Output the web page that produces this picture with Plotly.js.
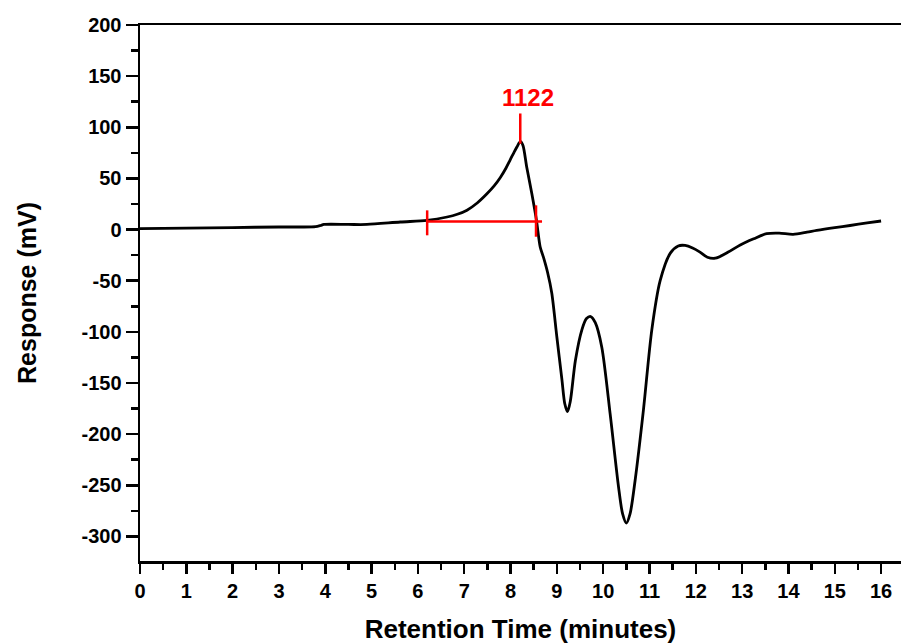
<!DOCTYPE html>
<html>
<head>
<meta charset="utf-8">
<script src="https://cdn.plot.ly/plotly-3.0.1.min.js"></script>
<style>html,body{margin:0;padding:0;background:#fff;}#chart{width:901px;height:644px;}</style>
</head>
<body>
<div id="chart"></div>
<script>
// Chromatogram trace (retention time in minutes, response in mV)
const timeMin = [0, 1, 2, 3, 3.46, 3.79, 3.9, 3.97, 4.5, 4.9, 5.62, 6.2, 6.63, 6.85, 7.06, 7.28, 7.49, 7.65, 7.78, 7.9, 7.99, 8.08, 8.14, 8.19, 8.22, 8.27, 8.35, 8.46, 8.56, 8.64, 8.71, 8.8, 8.89, 9.0, 9.11, 9.17, 9.23, 9.29, 9.40, 9.54, 9.64, 9.73, 9.83, 9.97, 10.15, 10.33, 10.42, 10.50, 10.58, 10.69, 10.87, 11.05, 11.23, 11.45, 11.62, 11.77, 11.93, 12.09, 12.25, 12.42, 12.7, 12.96, 13.25, 13.53, 13.8, 14.1, 14.4, 14.61, 15.0, 15.33, 15.7, 16.0];
const responseMv = [1, 1.5, 2, 2.5, 2.5, 2.8, 4, 5, 5, 5, 7.4, 9, 12.3, 15, 19, 26, 35, 43, 51, 60, 68, 76, 81, 85, 86, 82, 61, 35, 9, -17, -27, -42, -62, -105, -147, -170, -178, -168, -128, -98, -87, -85, -91, -115, -180, -251, -278, -287, -278, -245, -176, -98, -50, -23, -16, -15.5, -18, -22, -27, -28, -22, -15, -9, -4, -3.5, -4.6, -2.5, -0.7, 2, 4, 6.5, 8.4];

// Peak integration marks
const baseX = [6.2, 8.68];
const baseY = [8, 8];
const startTickX = [6.2, 6.2];
const startTickY = [-5.6, 18.8];
const endTickX = [8.55, 8.55];
const endTickY = [-7, 23.7];
const apexTickX = [8.21, 8.21];
const apexTickY = [84, 113.5];
const peakLabel = "1122";
const peakLabelX = 8.38;
const peakLabelY = 129;

const xTicks = [0,1,2,3,4,5,6,7,8,9,10,11,12,13,14,15,16];
const yTicks = [200,150,100,50,0,-50,-100,-150,-200,-250,-300];

const red = '#ff0000';
const traces = [
  {x: timeMin, y: responseMv, mode: 'lines', line: {color: '#000', width: 2.8, shape: 'spline', smoothing: 0.8}, hoverinfo: 'skip'},
  {x: baseX, y: baseY, mode: 'lines', line: {color: red, width: 2.5}, hoverinfo: 'skip'},
  {x: startTickX, y: startTickY, mode: 'lines', line: {color: red, width: 2.5}, hoverinfo: 'skip'},
  {x: endTickX, y: endTickY, mode: 'lines', line: {color: red, width: 2.5}, hoverinfo: 'skip'},
  {x: apexTickX, y: apexTickY, mode: 'lines', line: {color: red, width: 2.5}, hoverinfo: 'skip'}
];

const tickFont = {family: 'Liberation Sans, Arial, sans-serif', size: 20, color: '#000', weight: 'bold'};
const layout = {
  width: 901, height: 644,
  margin: {l: 140, r: 0, t: 25, b: 83},
  paper_bgcolor: '#fff', plot_bgcolor: '#fff',
  showlegend: false,
  font: {family: 'Liberation Sans, Arial, sans-serif', color: '#000'},
  xaxis: {
    range: [0, 16.43], tickvals: xTicks, ticktext: xTicks.map(String),
    ticks: 'outside', ticklen: 10, tickwidth: 2.5, tickcolor: '#000',
    minor: {dtick: 0.5, tick0: 0, ticks: 'outside', ticklen: 6, tickwidth: 2.5, tickcolor: '#000'},
    showline: true, linecolor: '#000', linewidth: 2.5, mirror: true,
    showgrid: false, zeroline: false,
    tickfont: tickFont,
    title: {text: 'Retention Time (minutes)', font: {family: 'Liberation Sans, Arial, sans-serif', size: 26, color: '#000', weight: 'bold'}, standoff: 20}
  },
  yaxis: {
    range: [-324, 200], tickvals: yTicks, ticktext: yTicks.map(String),
    ticks: 'outside', ticklen: 12, tickwidth: 2.5, tickcolor: '#000',
    minor: {dtick: 25, tick0: 0, ticks: 'outside', ticklen: 7, tickwidth: 2.5, tickcolor: '#000'},
    showline: true, linecolor: '#000', linewidth: 2.5,
    showgrid: false, zeroline: false,
    tickfont: tickFont,
    title: {text: 'Response (mV)', font: {family: 'Liberation Sans, Arial, sans-serif', size: 25, color: '#000', weight: 'bold'}, standoff: 38}
  },
  annotations: [{
    x: peakLabelX, y: peakLabelY, xref: 'x', yref: 'y', text: peakLabel, showarrow: false,
    font: {family: 'Liberation Sans, Arial, sans-serif', size: 24, color: red, weight: 'bold'}
  }]
};

Plotly.newPlot('chart', traces, layout, {displayModeBar: false, staticPlot: true});
</script>
</body>
</html>
